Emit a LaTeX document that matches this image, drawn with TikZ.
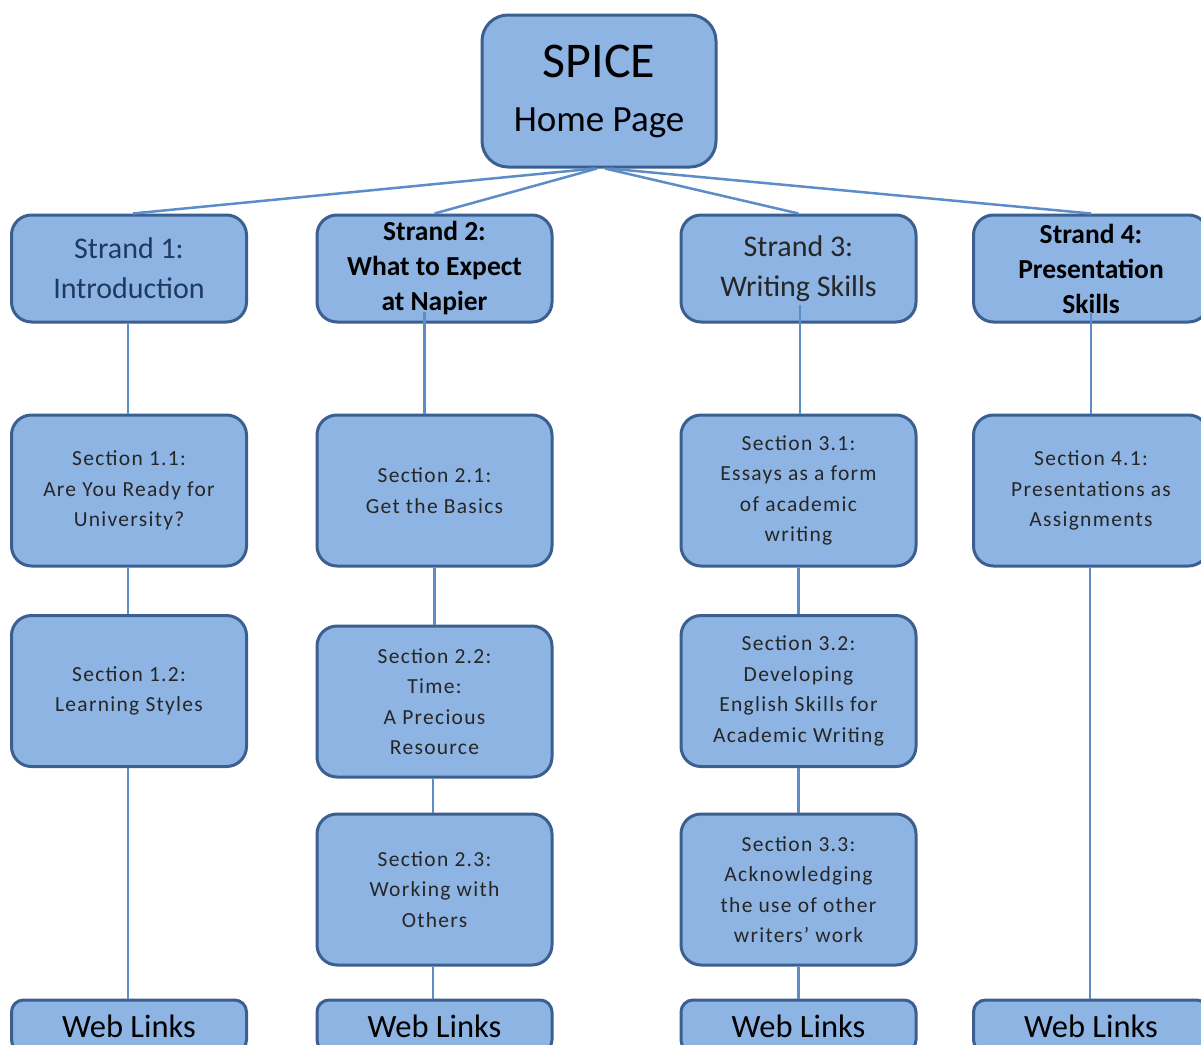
\documentclass[tikz,border=0pt]{standalone}
\usepackage{fontspec}
\setmainfont{Carlito}
\newfontfamily\secfont[LetterSpace=6]{Carlito}
\definecolor{boxfill}{HTML}{8EB4E3}
\definecolor{boxline}{HTML}{3B6090}
\definecolor{connline}{HTML}{5C8DC8}
\definecolor{navytext}{HTML}{1F3A60}
\definecolor{greytext}{HTML}{262626}
\tikzset{
  box/.style={draw=boxline, line width=3pt, fill=boxfill, rounded corners=20pt, align=center, inner sep=0pt},
  homebox/.style={box, minimum width=234pt, minimum height=152pt, rounded corners=26pt, text=black, font=\fontsize{37}{54}\selectfont},
  strandbox/.style={box, minimum width=235pt, minimum height=107pt},
  strandA/.style={strandbox, text=navytext, font=\fontsize{30}{40}\selectfont},
  strandB/.style={strandbox, text=black, font=\bfseries\fontsize{27.5}{35}\selectfont},
  strandC/.style={strandbox, text=greytext, font=\fontsize{30}{40}\selectfont},
  secbox/.style={box, minimum width=235pt, minimum height=151pt, text=greytext, font=\secfont\fontsize{21.5}{30.5}\selectfont},
  webbox/.style={box, minimum width=235pt, minimum height=52pt, rounded corners=12pt, text=black, font=\fontsize{32.5}{36}\selectfont},
  conn/.style={draw=connline, line width=2.5pt}
}
\begin{document}
\begin{tikzpicture}[x=1pt, y=-1pt]
\useasboundingbox (0,0) rectangle (1201,1044);
\clip (0,0) rectangle (1201,1044);
\fill[white] (0,0) rectangle (1201,1044);

\node[homebox] (home) at (599,91) {{\fontsize{50}{54}\selectfont SPICE}\\Home Page};

\node[strandA] (s1) at (129,268.5) {Strand 1:\\Introduction};
\node[strandB] (s2) at (434.5,268.5) {Strand 2:\\What to Expect\\at Napier};
\node[strandC] (s3) at (798.5,268.5) {Strand 3:\\Writing Skills};
\node[strandB] (s4) at (1091,268.5) {Strand 4:\\Presentation\\Skills};

\node[secbox] (s11) at (129,490.5) {Section 1.1:\\Are You Ready for\\University?};
\node[secbox] (s12) at (129,691) {Section 1.2:\\Learning Styles};
\node[secbox] (s21) at (434.5,490.5) {Section 2.1:\\Get the Basics};
\node[secbox] (s22) at (434.5,701.5) {Section 2.2:\\Time:\\A Precious\\Resource};
\node[secbox] (s23) at (434.5,889.5) {Section 2.3:\\Working with\\Others};
\node[secbox] (s31) at (798.5,490.5) {Section 3.1:\\Essays as a form\\of academic\\writing};
\node[secbox] (s32) at (798.5,691) {Section 3.2:\\Developing\\English Skills for\\Academic Writing};
\node[secbox] (s33) at (798.5,889.5) {Section 3.3:\\Acknowledging\\the use of other\\writers’ work};
\node[secbox] (s41) at (1091,490.5) {Section 4.1:\\Presentations as\\Assignments};

\node[webbox] (w1) at (129,1026) {Web Links};
\node[webbox] (w2) at (434.5,1026) {Web Links};
\node[webbox] (w3) at (798.5,1026) {Web Links};
\node[webbox] (w4) at (1091,1026) {Web Links};

% connectors from home
\draw[conn] ([xshift=-4pt]home.south) -- ([xshift=4pt]s1.north);
\draw[conn] ([xshift=-2pt]home.south) -- (s2.north);
\draw[conn] ([xshift=6pt]home.south) -- (s3.north);
\draw[conn] ([xshift=10pt]home.south) -- (s4.north);

% column 1
\draw[conn] ([xshift=-1pt]s1.south) -- ([xshift=-1pt]s11.north);
\draw[conn] ([xshift=-1pt]s11.south) -- ([xshift=-1pt]s12.north);
\draw[conn] ([xshift=-1pt]s12.south) -- ([xshift=-1pt]w1.north);
% column 2
\draw[conn] ([xshift=-10pt,yshift=12pt]s2.south) -- ([xshift=-10pt]s21.north);
\draw[conn] (s21.south) -- (s22.north);
\draw[conn] ([xshift=-1.5pt]s22.south) -- ([xshift=-1.5pt]s23.north);
\draw[conn] ([xshift=-1.5pt]s23.south) -- ([xshift=-1.5pt]w2.north);
% column 3
\draw[conn] ([xshift=1.5pt,yshift=19pt]s3.south) -- ([xshift=1.5pt]s31.north);
\draw[conn] (s31.south) -- (s32.north);
\draw[conn] (s32.south) -- (s33.north);
\draw[conn] (s33.south) -- (w3.north);
% column 4
\draw[conn] ([yshift=12pt]s4.south) -- (s41.north);
\draw[conn] ([xshift=-1pt]s41.south) -- ([xshift=-1pt]w4.north);
\end{tikzpicture}
\end{document}
